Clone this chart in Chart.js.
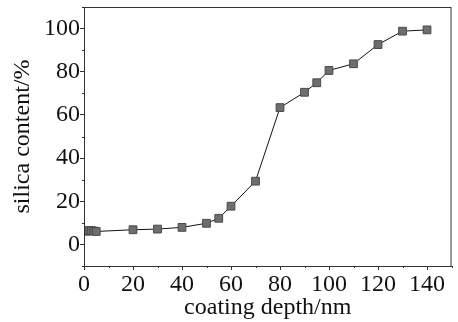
<!DOCTYPE html>
<html lang="en">
  <head>
    <meta charset="UTF-8" />
    <title>silica content vs coating depth</title>
    <script src="https://cdn.jsdelivr.net/npm/chart.js@4.4.0/dist/chart.umd.min.js"></script>
    <style>
      html, body { margin: 0; padding: 0; background: #ffffff; }
      .chart-container { width: 458px; height: 322px; }
    </style>
  </head>
  <body>
    <div class="chart-container">
      <canvas id="myChart"></canvas>
    </div>

    <script>
      // data
      const depth = [1, 2, 3, 4, 5, 20, 30, 40, 50, 55, 60, 70, 80, 90, 95, 100, 110, 120, 130, 140];
      const silica = [6.1, 6.4, 6.4, 6.2, 6.0, 6.8, 7.1, 7.9, 9.8, 12.1, 17.7, 29.3, 63.4, 70.5, 74.9, 80.6, 83.7, 92.6, 98.8, 99.4];

      const xTicks = [0, 20, 40, 60, 80, 100, 120, 140];
      const yTicks = [0, 20, 40, 60, 80, 100];
      const xMinor = [10, 30, 50, 70, 90, 110, 130, 150];
      const yMinor = [-10, 10, 30, 50, 70, 90, 110];

      const serif = "'Liberation Serif', 'DejaVu Serif', serif";

      // frame round the plot plus the small minor ticks
      const framePlugin = {
        id: "frame",
        afterDraw(chart) {
          const { ctx, chartArea: a, scales } = chart;
          ctx.save();
          ctx.strokeStyle = "#333333";
          ctx.lineWidth = 1;
          ctx.strokeRect(a.left + 0.5, a.top + 0.5, a.right - a.left - 1, a.bottom - a.top);
          ctx.beginPath();
          xMinor.forEach((v) => {
            const px = Math.round(scales.x.getPixelForValue(v)) + 0.5;
            ctx.moveTo(px, a.bottom);
            ctx.lineTo(px, a.bottom + 2);
          });
          yMinor.forEach((v) => {
            const py = Math.round(scales.y.getPixelForValue(v)) + 0.5;
            ctx.moveTo(a.left, py);
            ctx.lineTo(a.left - 2, py);
          });
          ctx.stroke();
          ctx.restore();
        },
      };

      const ctx = document.getElementById("myChart").getContext("2d");
      const myChart = new Chart(ctx, {
        type: "line",
        data: {
          datasets: [
            {
              data: depth.map((d, i) => ({ x: d, y: silica[i] })),
              borderColor: "#111111",
              borderWidth: 1,
              pointStyle: "rect",
              pointRadius: 5.5,
              pointBackgroundColor: "#6e6e6e",
              pointBorderColor: "#4a4a4a",
              pointBorderWidth: 1,
              tension: 0,
            },
          ],
        },
        options: {
          responsive: true,
          maintainAspectRatio: false,
          animation: false,
          layout: { padding: { left: 0, right: 2, top: 7, bottom: 0 } },
          plugins: {
            legend: { display: false },
            tooltip: { enabled: false },
          },
          scales: {
            x: {
              type: "linear",
              min: 0,
              max: 150,
              afterBuildTicks: (s) => { s.ticks = xTicks.map((v) => ({ value: v })); },
              afterFit: (s) => { s.height = 56; s.paddingLeft = 0; s.paddingRight = 0; },
              grid: { drawOnChartArea: false, tickLength: 4, color: "#333333" },
              border: { color: "#333333" },
              ticks: { color: "#111111", padding: 0, maxRotation: 0, font: { family: serif, size: 24 } },
              title: {
                display: true,
                text: "coating depth/nm",
                color: "#111111",
                padding: { top: -6, bottom: 0 },
                font: { family: serif, size: 24 },
              },
            },
            y: {
              min: -10,
              max: 110,
              afterBuildTicks: (s) => { s.ticks = yTicks.map((v) => ({ value: v })); },
              afterFit: (s) => { s.width = 84; s.paddingTop = 0; s.paddingBottom = 0; },
              grid: { drawOnChartArea: false, tickLength: 4, color: "#333333" },
              border: { color: "#333333" },
              ticks: { color: "#111111", padding: 0, font: { family: serif, size: 24 } },
              title: {
                display: true,
                text: "silica content/%",
                color: "#111111",
                padding: { top: 8, bottom: 0 },
                font: { family: serif, size: 24 },
              },
            },
          },
        },
        plugins: [framePlugin],
      });
    </script>
  </body>
</html>
